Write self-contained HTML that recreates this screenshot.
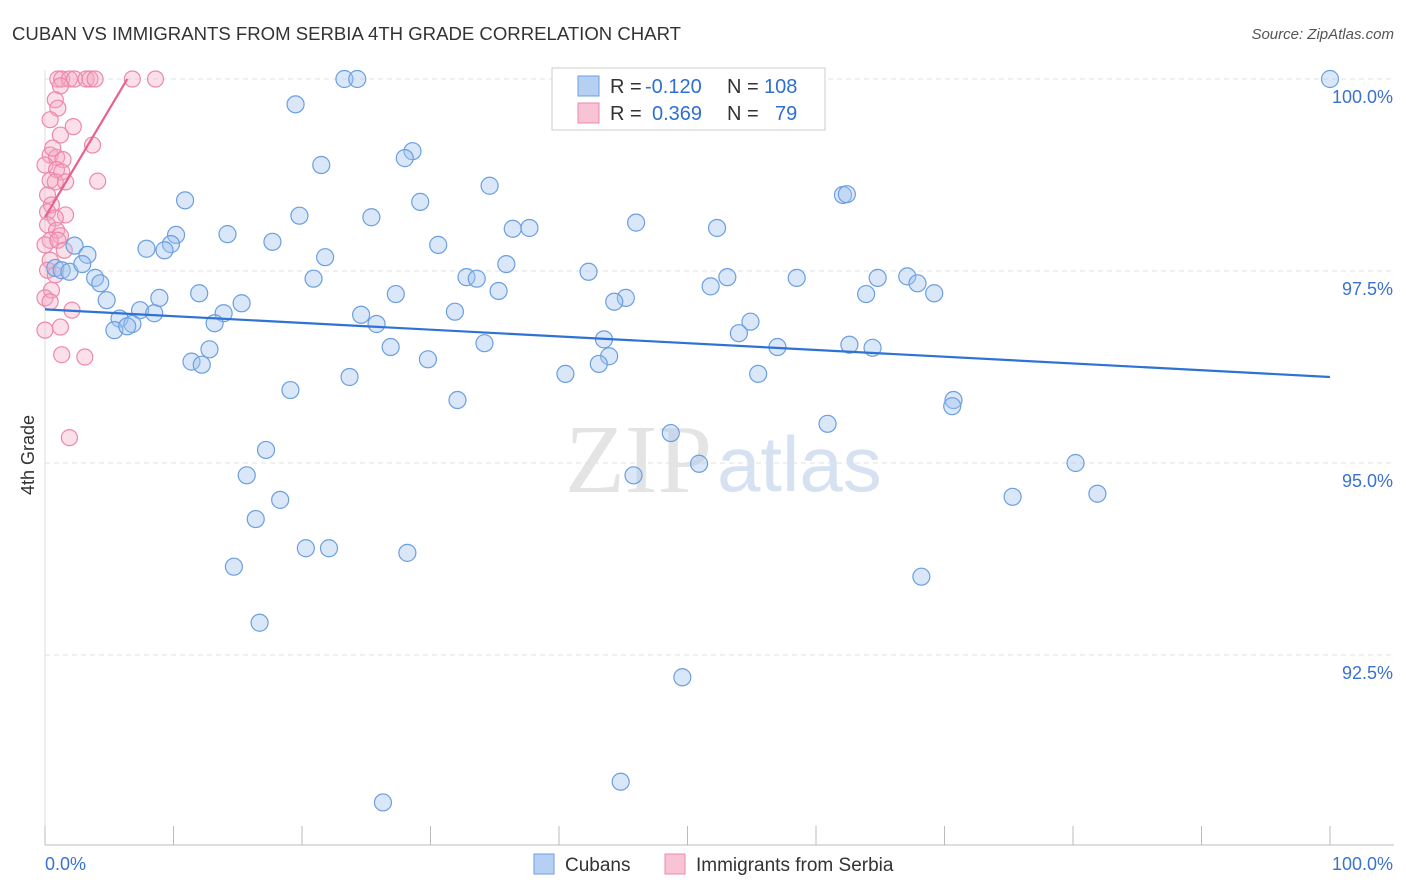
<!DOCTYPE html>
<html><head><meta charset="utf-8"><style>
body{margin:0;background:#fff;font-family:"Liberation Sans",sans-serif;}
#wrap{position:relative;width:1406px;height:892px;overflow:hidden;}
</style></head><body>
<div id="wrap">
<svg id="chart" width="1406" height="892" xmlns="http://www.w3.org/2000/svg">
<text x="12" y="40" font-size="18" fill="#333" textLength="669" lengthAdjust="spacingAndGlyphs">CUBAN VS IMMIGRANTS FROM SERBIA 4TH GRADE CORRELATION CHART</text>
<text x="1394" y="39" font-size="15" fill="#555" font-style="italic" text-anchor="end">Source: ZipAtlas.com</text>
<text x="712" y="492" font-size="98" fill="#e4e4e4" text-anchor="end" font-family="Liberation Serif">ZIP</text>
<text x="717" y="491" font-size="78" fill="#d6e2f2">atlas</text>
<text transform="translate(34,455) rotate(-90)" font-size="18" fill="#333" text-anchor="middle">4th Grade</text>
<g id="grid"></g><g id="marks"></g>
<g>
<rect x="552" y="68" width="273" height="62" fill="#fff" stroke="#ccc"/>
<rect x="578" y="76" width="21" height="20" fill="#b6d0f3" stroke="#6a9fe0"/>
<rect x="578" y="103" width="21" height="20" fill="#f8c3d4" stroke="#ec8aac"/>
<text x="610" y="93" font-size="20" fill="#333">R =</text>
<text x="645" y="93" font-size="20" fill="#2e6fd0">-0.120</text>
<text x="727" y="93" font-size="20" fill="#333">N =</text>
<text x="764" y="93" font-size="20" fill="#2e6fd0">108</text>
<text x="610" y="120" font-size="20" fill="#333">R =</text>
<text x="652" y="120" font-size="20" fill="#2e6fd0">0.369</text>
<text x="727" y="120" font-size="20" fill="#333">N =</text>
<text x="775" y="120" font-size="20" fill="#2e6fd0">79</text>
</g>
<g>
<rect x="534" y="854" width="20" height="20" fill="#b6d0f3" stroke="#6a9fe0"/>
<text x="565" y="871" font-size="19" fill="#333">Cubans</text>
<rect x="665" y="854" width="20" height="20" fill="#f8c3d4" stroke="#ec8aac"/>
<text x="696" y="871" font-size="19" fill="#333">Immigrants from Serbia</text>
</g>
</svg>
</div>
<script>
const yTicks=[100,97.5,95,92.5];
const yTickLabels=["100.0%","97.5%","95.0%","92.5%"];
const xEndLabels=["0.0%","100.0%"];
const cubanX=[100,23.3,24.3,19.5,21.5,28.6,28.0,34.6,29.2,10.9,19.8,25.4,62.1,62.4,46.0,52.3,36.4,37.7,14.2,10.2,17.7,30.6,7.9,9.8,9.3,2.3,3.3,21.8,35.9,42.3,32.8,33.6,20.9,53.1,58.5,64.8,67.1,67.9,51.8,35.3,27.3,12.0,8.9,4.8,15.3,63.9,69.2,45.2,44.3,0.8,1.3,1.9,2.9,3.9,4.3,31.9,24.6,13.9,7.4,8.5,5.8,13.2,6.8,5.4,6.4,25.8,54.9,54.0,43.5,34.2,26.9,12.8,57.0,62.6,64.4,43.9,29.8,11.4,12.2,43.1,40.5,55.5,23.7,19.1,32.1,70.7,70.6,60.9,48.7,17.2,15.7,45.8,50.9,80.2,18.3,75.3,81.9,16.4,20.3,22.1,28.2,14.7,68.2,16.7,49.6,44.8,26.3];
const cubanY=[100,100,100,99.67,98.88,99.06,98.97,98.61,98.40,98.42,98.22,98.20,98.49,98.50,98.13,98.06,98.05,98.06,97.98,97.97,97.88,97.84,97.79,97.85,97.77,97.83,97.71,97.68,97.59,97.49,97.42,97.40,97.40,97.42,97.41,97.41,97.43,97.34,97.30,97.24,97.20,97.21,97.15,97.12,97.08,97.20,97.21,97.15,97.10,97.54,97.51,97.49,97.59,97.41,97.34,96.97,96.93,96.95,96.99,96.95,96.88,96.82,96.81,96.73,96.78,96.81,96.84,96.69,96.61,96.56,96.51,96.48,96.51,96.54,96.50,96.39,96.35,96.32,96.28,96.29,96.16,96.16,96.12,95.95,95.82,95.82,95.74,95.51,95.39,95.17,94.84,94.84,94.99,95.00,94.52,94.56,94.60,94.27,93.89,93.89,93.83,93.65,93.52,92.92,92.21,90.85,90.58];
const serbX=[1.0,1.3,1.9,2.3,3.2,3.5,3.9,6.8,8.6,1.2,0.8,1.0,2.2,1.2,3.7,0.4,0.9,1.4,0,0.9,1.3,0.4,4.1,0.8,1.6,0.2,0.5,0.2,1.6,0.8,0.2,0.9,1.2,0.4,0,1.0,1.5,0.4,0.2,0.8,0.5,0,0.4,2.1,1.2,0,1.3,3.1,1.9,0.6,0.4];
const serbY=[100,100,100,100,100,100,100,100,100,99.91,99.73,99.62,99.38,99.27,99.14,99.01,98.98,98.95,98.88,98.82,98.79,98.68,98.67,98.66,98.66,98.49,98.36,98.27,98.23,98.19,98.10,98.03,97.96,97.90,97.84,97.90,97.77,97.64,97.51,97.45,97.25,97.15,97.10,96.99,96.77,96.73,96.41,96.38,95.33,99.10,99.47];
const cubanTrend=[[0,97.0],[100,96.12]];
const serbTrend=[[0,98.2],[6.4,100]];

const NS="http://www.w3.org/2000/svg";
const sx=v=>45+v*12.85, sy=v=>79+(100-v)*76.8;
function mk(tag,attrs,parent){const e=document.createElementNS(NS,tag);for(const k in attrs)e.setAttribute(k,attrs[k]);parent.appendChild(e);return e;}
const grid=document.getElementById('grid'), marks=document.getElementById('marks');
yTicks.forEach((t,i)=>{
  const l=mk('line',{x1:45,x2:1394,y1:sy(t),y2:sy(t),stroke:'#e2e2e2','stroke-dasharray':'5,4'},grid);
  
  
  const tx=mk('text',{x:1393,y:sy(t)+24,'font-size':18,fill:'#3a72d0','text-anchor':'end'},grid);
  tx.textContent=yTickLabels[i];
  
  
});
const ax=mk('line',{x1:45,x2:1394,y1:845,y2:845,stroke:'#bbb'},grid);


const ay=mk('line',{x1:45,x2:45,y1:70,y2:845,stroke:'#ddd'},grid);


for(let i=0;i<=10;i++){
  const tk=mk('line',{x1:sx(i*10),x2:sx(i*10),y1:826,y2:845,stroke:'#bbb'},grid);
  
  
}
[[0,'start',45],[100,'end',1393]].forEach((a,i)=>{
  const tx=mk('text',{x:a[2],y:870,'font-size':18,fill:'#3a72d0','text-anchor':a[1]},grid);
  tx.textContent=xEndLabels[i];
  
  
});
serbX.forEach((x,i)=>{
  const c=mk('circle',{cx:sx(x),cy:sy(serbY[i]),r:8,fill:'rgba(244,166,191,0.35)',stroke:'#ee88ab','stroke-width':1.2},marks);
  
  
});
cubanX.forEach((x,i)=>{
  const c=mk('circle',{cx:sx(x),cy:sy(cubanY[i]),r:8.5,fill:'rgba(160,196,240,0.4)',stroke:'#6a9fe0','stroke-width':1.2},marks);
  
  
});
const lb=mk('line',{x1:sx(cubanTrend[0][0]),y1:sy(cubanTrend[0][1]),x2:sx(cubanTrend[1][0]),y2:sy(cubanTrend[1][1]),stroke:'#2e73d4','stroke-width':2.2},marks);


const lp=mk('line',{x1:sx(serbTrend[0][0]),y1:sy(serbTrend[0][1]),x2:sx(serbTrend[1][0]),y2:sy(serbTrend[1][1]),stroke:'#e8608e','stroke-width':2.2},marks);


</script>
</body></html>
